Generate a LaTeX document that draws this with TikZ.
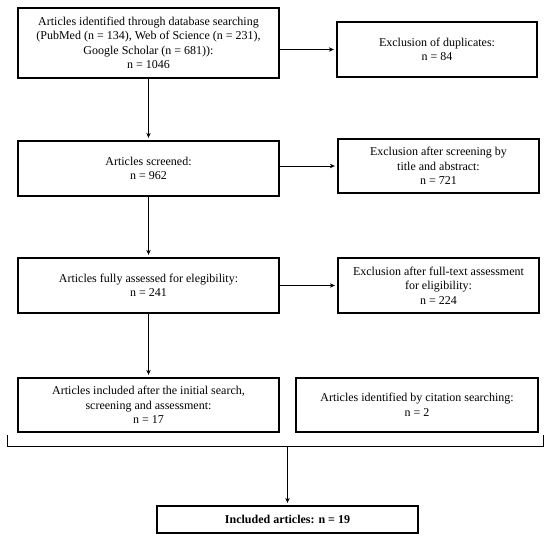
\documentclass[tikz,border=0pt]{standalone}
\usepackage{fontspec}
\setmainfont{Liberation Serif}
\usetikzlibrary{arrows.meta}
\tikzset{
  box/.style={draw=black, line width=1.3pt, rectangle, align=center, inner sep=0pt,
    font=\fontsize{12}{14.5}\selectfont},
  arr/.style={-{Stealth[length=5pt,width=4.5pt]}, line width=0.7pt, shorten >=2.5pt},
  brk/.style={line width=0.9pt}
}
\begin{document}
\begin{tikzpicture}[x=1pt,y=-1pt]
\useasboundingbox (0,0) rectangle (550,543);
\node[box, minimum width=261pt, minimum height=70pt] (b1) at (148.5,43)
  {Articles identified through database searching\\(PubMed (n = 134), Web of Science (n = 231),\\Google Scholar (n = 681)):\\n = 1046};
\node[box, minimum width=200pt, minimum height=55pt] (dup) at (437,49.5)
  {Exclusion of duplicates:\\n = 84};
\node[box, minimum width=261pt, minimum height=55pt] (b2) at (148.5,168.5)
  {Articles screened:\\n = 962};
\node[box, minimum width=201pt, minimum height=54pt] (scr) at (438.5,166)
  {Exclusion after screening by\\title and abstract:\\n = 721};
\node[box, minimum width=261pt, minimum height=55pt] (b3) at (148.5,285.5)
  {Articles fully assessed for elegibility:\\n = 241};
\node[box, minimum width=201pt, minimum height=55pt] (full) at (438.5,285.5)
  {Exclusion after full-text assessment\\for eligibility:\\n = 224};
\node[box, minimum width=261pt, minimum height=54pt] (b4) at (148.5,405)
  {Articles included after the initial search,\\screening and assessment:\\n = 17};
\node[box, minimum width=242pt, minimum height=54pt] (cit) at (417,405)
  {Articles identified by citation searching:\\n = 2};
\node[box, minimum width=261pt, minimum height=27pt] (fin) at (287.5,519.5)
  {\textbf{Included articles: n = 19}};
\draw[arr] (b1.east |- dup.west) -- (dup.west);
\draw[arr] (b2.east |- scr.west) -- (scr.west);
\draw[arr] (b3.east |- full.west) -- (full.west);
\draw[arr] (b1.south) -- (b2.north);
\draw[arr] (b2.south) -- (b3.north);
\draw[arr] (b3.south) -- (b4.north);
\coordinate (bl) at (7,435);
\coordinate (br) at (543,435);
\coordinate (bm) at (287.5,446);
\draw[brk] (bl) -- (bl |- bm) -- (br |- bm) -- (br);
\draw[arr] (bm) -- (fin.north);
\end{tikzpicture}
\end{document}
